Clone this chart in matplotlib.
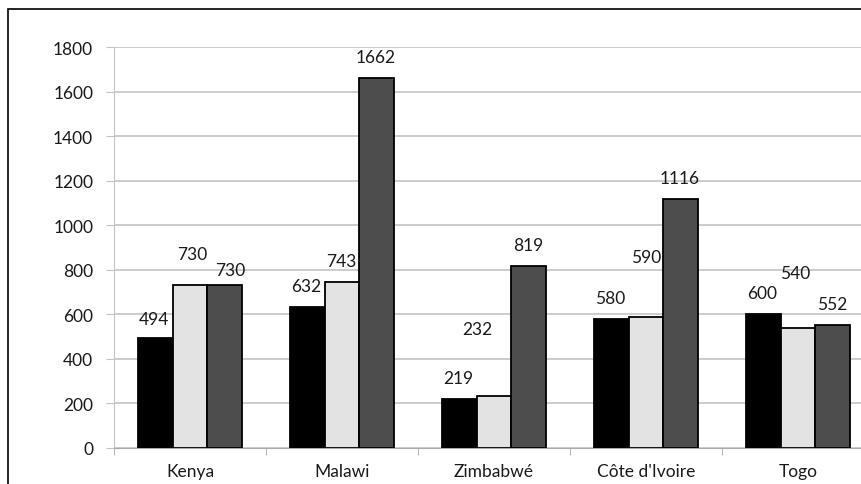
import numpy as np
import matplotlib.pyplot as plt
from matplotlib.patches import Rectangle

countries = ["Kenya", "Malawi", "Zimbabwé", "Côte d'Ivoire", "Togo"]
series_a = [494, 632, 219, 580, 600]    # black bars
series_b = [730, 743, 232, 590, 540]    # light grey bars
series_c = [730, 1662, 819, 1116, 552]  # dark grey bars
y_ticks = [0, 200, 400, 600, 800, 1000, 1200, 1400, 1600, 1800]

# label offsets (pixels) from each bar top, hand-placed in the original
label_shift = {
    (0, 0): (-1, 19), (0, 1): (2, 31), (0, 2): (5, 15),
    (2, 1): (-17, 67), (3, 1): (0, 60), (4, 1): (-3, 55),
}

plt.rcParams['font.family'] = ['Lato', 'DejaVu Sans']
FS = 12.5

fig = plt.figure(figsize=(8.62, 4.85), dpi=100)
ax = fig.add_axes([114 / 862, 36 / 485, 760 / 862, 401 / 485])

x = np.arange(len(countries))
w = 0.23
colors = ["#000000", "#e3e3e3", "#4d4d4d"]
for i, (vals, col) in enumerate(zip([series_a, series_b, series_c], colors)):
    bars = ax.bar(x + (i - 1) * w, vals, width=w, color=col,
                  edgecolor="black", linewidth=1.3, zorder=3)
    for j, b in enumerate(bars):
        dx, dy = label_shift.get((j, i), (-1, 21))
        ax.annotate(str(vals[j]), (b.get_x() + b.get_width() / 2, b.get_height()),
                    xytext=(dx, dy), textcoords="offset pixels",
                    ha="center", va="center", fontsize=FS, color="#1a1a1a")

ax.set_xlim(-0.5, len(countries) - 0.5)
ax.set_ylim(0, 1800)
ax.set_yticks(y_ticks)
ax.yaxis.grid(True, color="#c4c4c4", linewidth=1.2, zorder=0)
ax.set_axisbelow(True)

ax.set_xticks(x)
ax.set_xticklabels(countries)
ax.set_xticks(np.arange(len(countries) + 1) - 0.5, minor=True)
ax.tick_params(axis="x", which="major", length=0, pad=11, labelsize=FS,
               labelcolor="#1a1a1a")
ax.tick_params(axis="x", which="minor", length=5, color="#aaaaaa")
ax.tick_params(axis="y", length=6, color="#c4c4c4", pad=9, labelsize=FS,
               labelcolor="#1a1a1a")

for s in ["top", "right"]:
    ax.spines[s].set_visible(False)
ax.spines["left"].set_color("#c4c4c4")
ax.spines["bottom"].set_color("#aaaaaa")

fig.patches.append(Rectangle((8 / 862, -0.1), 1.2, 0.1 + 475 / 485,
                             transform=fig.transFigure, fill=False,
                             edgecolor="black", linewidth=1.2))

fig.savefig("out.png", dpi=100)
